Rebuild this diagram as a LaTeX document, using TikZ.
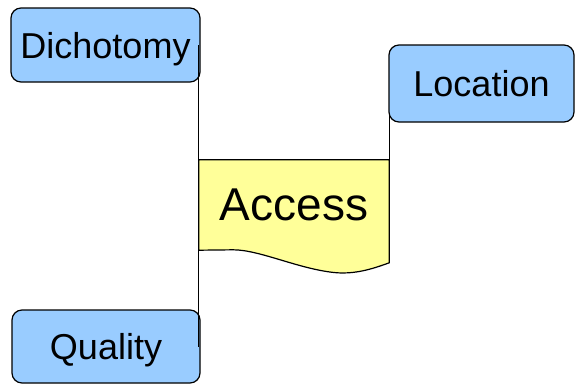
\documentclass[tikz,border=0pt]{standalone}
\usepackage{fontspec}
\setmainfont{Liberation Sans}
\definecolor{boxblue}{HTML}{99CCFF}
\definecolor{docyellow}{HTML}{FFFF99}
\tikzset{
  topic/.style={draw=black, line width=1.2pt, fill=boxblue, rounded corners=10pt,
    inner sep=0pt, text height=26pt, text depth=0pt, font=\fontsize{36}{40}\selectfont},
  link/.style={draw=black, line width=1.3pt}
}
\begin{document}
\begin{tikzpicture}[x=1pt, y=-1pt]

 \useasboundingbox (0,0) rectangle (575,386);

	%draw topics
    \foreach \x/\y/\w/\h/\name/\txt in {105.5/45/189/74/dich/Dichotomy, 106/346.5/188/73/qual/Quality, 481.5/83.5/185/77/loc/Location}{
           \node[topic, minimum width=\w pt, minimum height=\h pt] (\name) at (\x,\y) {\txt};
    }

	%draw main document
 \node[inner sep=0pt, minimum width=190pt, minimum height=90pt, font=\fontsize{46}{50}\selectfont] (access) at (294,205) {};
    \draw[line width=1.2pt, fill=docyellow] (access.north west) -- (access.north east) -- ++(0,103)
         .. controls +(-19,7) and +(18,1) .. ++(-52,10)
         .. controls +(-37,-3) and +(27,0) .. ++(-104,-23) -- (access.south west) -- cycle;
    \node[font=\fontsize{46}{50}\selectfont] (accesstext) at (access.center) {Access};

	%links
    \draw[link] (access.north west) -- (access.north west |- dich.east);
    \draw[link] (access.south west) -- (access.south west |- qual.east);
    \draw[link] (access.north east) -- ([yshift=9pt]access.north east |- loc.south);

\end{tikzpicture}
\end{document}
